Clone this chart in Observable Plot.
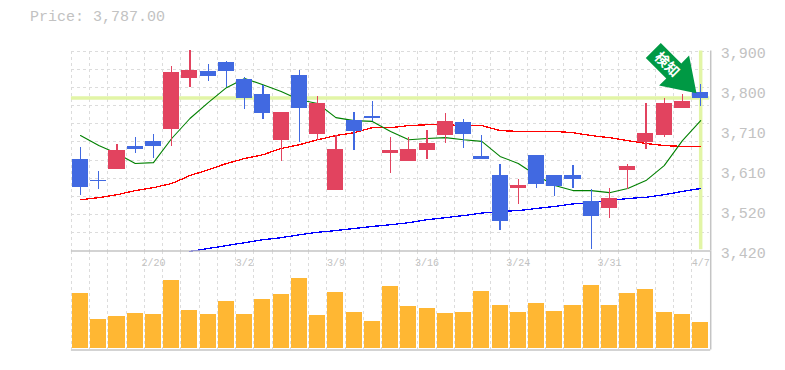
<!DOCTYPE html>
<html><head><meta charset="utf-8">
<script src="https://cdn.jsdelivr.net/npm/d3@7"></script>
<script src="https://cdn.jsdelivr.net/npm/@observablehq/plot@0.6"></script>
<style>
html,body{margin:0;padding:0;background:#fff;width:785px;height:370px;overflow:hidden}
#wrap{position:relative;width:785px;height:370px}
#title{position:absolute;left:30px;top:9px;font:15px/18px "Liberation Mono",monospace;color:#c2c2c2;white-space:pre}
#wrap svg{position:absolute;left:0;background:transparent}
</style></head><body>
<div id="wrap"><div id="title">Price: 3,787.00</div></div>
<script>
const dates = ["2/16","2/17","2/18","2/19","2/20","2/24","2/25","2/26","2/27","3/2","3/3","3/4","3/5","3/6","3/9","3/10","3/11","3/12","3/13","3/16","3/17","3/18","3/19","3/23","3/24","3/25","3/26","3/27","3/30","3/31","4/1","4/2","4/3","4/6","4/7"];
const opens = [3639,3590,3615,3671,3683,3711,3834,3851,3872,3831,3795,3685,3841,3699,3565,3733,3743,3654,3635,3661,3697,3728,3647,3601,3570,3649,3601,3601,3539,3522,3613,3680,3697,3762,3800];
const closes = [3572,3587,3661,3663,3671,3848,3853,3839,3851,3786,3750,3752,3762,3774,3663,3707,3738,3661,3663,3678,3731,3699,3639,3491,3577,3579,3575,3591,3503,3546,3623,3702,3774,3779,3786];
const highs = [3668,3611,3675,3692,3699,3863,3901,3867,3875,3836,3817,3752,3853,3791,3697,3752,3779,3692,3692,3709,3750,3735,3697,3627,3591,3649,3601,3625,3567,3570,3627,3774,3786,3795,3819];
const lows = [3553,3567,3615,3654,3642,3671,3812,3827,3812,3759,3735,3635,3680,3685,3565,3661,3731,3606,3635,3639,3678,3666,3639,3469,3531,3570,3551,3570,3423,3498,3567,3663,3692,3762,3767];
const ma5 = [3697,3673,3654,3630,3632,3690,3738,3776,3812,3834,3819,3803,3783,3774,3740,3733,3731,3707,3687,3690,3692,3687,3683,3647,3630,3601,3577,3565,3565,3560,3570,3589,3625,3685,3733];
const ma25 = [3543,3548,3555,3565,3572,3582,3601,3615,3630,3642,3651,3666,3675,3687,3697,3704,3716,3716,3721,3723,3723,3721,3721,3709,3707,3707,3707,3704,3697,3692,3685,3678,3673,3671,3671];
const ma75 = [null,null,null,null,null,null,3419,3426,3433,3440,3447,3452,3459,3465,3469,3474,3479,3483,3488,3495,3500,3505,3511,3515,3517,3522,3527,3533,3536,3541,3546,3549,3555,3563,3570];
const volumes = [55,29,32,35,34,69,38,34,47,34,49,54,71,33,56,36,27,62,42,40,35,36,57,43,36,45,37,43,63,43,55,59,36,34,26];
const lastPrice = 3787;
const priceTicks = [3420,3516,3612,3708,3804,3900];
const priceLabels = ["3,420","3,520","3,610","3,710","3,800","3,900"];
const dateTickIdx = [4,9,14,19,24,29,34];
const gridPrices = d3.range(1,12).map(k => 3420 + k*480/11);
const gridIdx = d3.range(0,35).map(i => i - 0.5);

const UP="#e2435f", DOWN="#4169e1", VOL="#ffb733", GREEN="#008000", RED="#ff0000", BLUE="#0000ff";
const GRID="#dcdcdc", FRAME="#c4c4c4", HILITE="#e2f5a6", ARROW="#009944", TXT="#c2c2c2";
const MONO='"Liberation Mono",monospace';

const idx = d3.range(dates.length);
const candles = idx.map(i => ({i, o:opens[i], c:closes[i], h:highs[i], l:lows[i], col: closes[i]>=opens[i]?UP:DOWN}));
const xOpt = {domain:[-0.5,34.5], range:[70.9,709.3], axis:null};
const crisp = {shapeRendering:"crispEdges"};
const dash = {stroke:GRID, strokeDasharray:"3,3", strokeWidth:1, ...crisp};

const arrowSymbol = {draw(ctx){
  ctx.moveTo(-35.7,-50.4);ctx.lineTo(-15.2,-29.9);ctx.lineTo(-7.4,-37.7);ctx.lineTo(0,0);
  ctx.lineTo(-37.4,-7.7);ctx.lineTo(-30.2,-14.9);ctx.lineTo(-50.7,-35.4);ctx.closePath();
}};

const price = Plot.plot({
  width:785, height:251, marginLeft:0, marginRight:0, marginTop:50.5, marginBottom:0.5,
  style:{background:"transparent",overflow:"visible"},
  x:{...xOpt}, y:{domain:[3420,3900], range:[250.5,50.5], axis:null},
  marks:[
    Plot.ruleX(gridIdx,{x:d=>d,...dash}),
    Plot.ruleY(gridPrices,{y:d=>d,...dash,x1:-0.5,x2:34.5}),
    Plot.ruleY([lastPrice],{y:d=>d,x1:-0.5,x2:34.5,stroke:HILITE,strokeWidth:3.5}),
    Plot.ruleX([34],{x:d=>d,y1:3423,y2:3900,stroke:HILITE,strokeWidth:3.5}),
    Plot.line(idx,{x:d=>d,y:d=>ma75[d],stroke:BLUE,strokeWidth:1.3,...crisp}),
    Plot.line(idx,{x:d=>d,y:d=>ma25[d],stroke:RED,strokeWidth:1.3,...crisp}),
    Plot.line(idx,{x:d=>d,y:d=>ma5[d],stroke:GREEN,strokeWidth:1.1}),
    Plot.ruleX(candles,{x:"i",y1:"l",y2:"h",stroke:"col",strokeWidth:1.3,...crisp}),
    Plot.rect(candles,{x1:d=>d.i-0.44,x2:d=>d.i+0.44,y1:"o",y2:"c",fill:"col",...crisp}),
    Plot.ruleX([34.55],{x:d=>d,y1:3420,y2:3900,stroke:FRAME,strokeWidth:1.5}),
    Plot.axisY({anchor:"right",ticks:priceTicks,tickFormat:(d,i)=>priceLabels[i],tickSize:0,tickPadding:0,dx:11,dy:2,fontSize:15,fontFamily:MONO,fill:TXT,textAnchor:"start",label:null,line:false,color:TXT,x:34.5}),
    Plot.dot([{i:33.77,p:3798.5}],{x:"i",y:"p",symbol:arrowSymbol,fill:ARROW,stroke:"none"}),
    Plot.text(["検知"],{x:()=>32.15,y:()=>3867,rotate:45,fill:"#fff",fontSize:14,fontWeight:700,fontFamily:'"Noto Sans CJK JP"'})
  ]
});
price.style.top="0px";
document.getElementById("wrap").appendChild(price);

const vol = Plot.plot({
  width:785, height:119, marginLeft:0, marginRight:0, marginTop:0.5, marginBottom:20,
  style:{background:"transparent",overflow:"visible"},
  x:{...xOpt}, y:{domain:[-2,98.5], range:[99.5,0.5], axis:null},
  marks:[
    Plot.ruleX(gridIdx,{x:d=>d,...dash}),
    Plot.rect(idx,{x1:d=>d-0.44,x2:d=>d+0.44,y1:()=>0,y2:d=>volumes[d],fill:VOL,...crisp}),
    Plot.ruleY([-2],{y:d=>d,x1:-0.5,x2:34.55,stroke:FRAME,strokeWidth:1.6}),
    Plot.ruleY([98.5],{y:d=>d,x1:-0.5,x2:34.55,stroke:FRAME,strokeWidth:1.6}),
    Plot.ruleX([34.55],{x:d=>d,y1:-2,y2:98.5,stroke:FRAME,strokeWidth:1.5}),
    Plot.text(dateTickIdx,{x:d=>d,y:()=>87,text:d=>dates[d],fontSize:10,fontFamily:MONO,fill:TXT})
  ]
});
vol.style.top="250px";
document.getElementById("wrap").appendChild(vol);
</script>
</body></html>
